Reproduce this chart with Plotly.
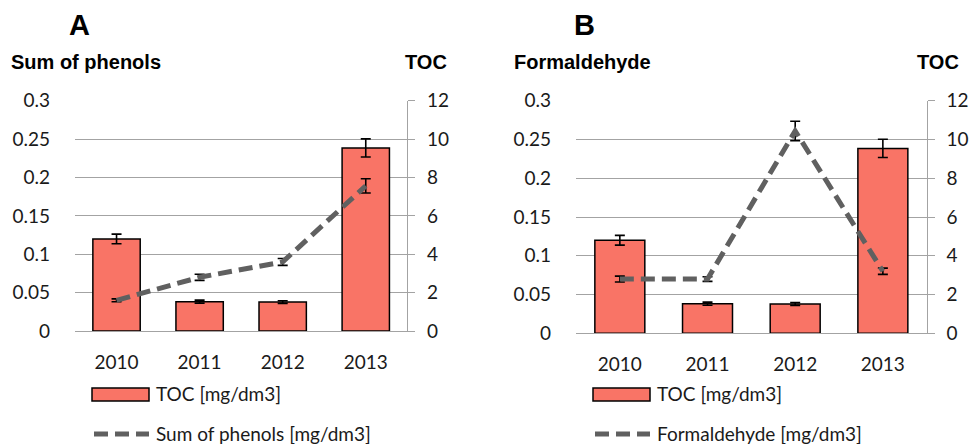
import plotly.graph_objects as go

# ---------------- data ----------------
years = ["2010", "2011", "2012", "2013"]
toc = [4.80, 1.53, 1.51, 9.54]
toc_err = [0.25, 0.08, 0.07, 0.47]
phenols = [0.040, 0.070, 0.090, 0.189]
phenols_err = [0.0018, 0.004, 0.0045, 0.0093]
formaldehyde = [0.070, 0.070, 0.261, 0.080]
formaldehyde_err = [0.0038, 0.003, 0.0125, 0.004]

left_ticks = [0, 0.05, 0.1, 0.15, 0.2, 0.25, 0.3]
right_ticks = [0, 2, 4, 6, 8, 10, 12]

W, H = 971, 444
def px(x):
    return x / W
def py(y):
    return 1 - y / H

BAR = "#F97466"
LINE = "#606060"
GRID = "#A3A3A3"
TXT = "#1a1a1a"
TICKFONT = dict(family="Lato", size=19, color=TXT)

fig = go.Figure()

panels = [
    dict(x="x", ybar="y", yline="y2", line=phenols, err=phenols_err,
         name="Sum of phenols [mg/dm3]"),
    dict(x="x2", ybar="y3", yline="y4", line=formaldehyde, err=formaldehyde_err,
         name="Formaldehyde [mg/dm3]"),
]

for p in panels:
    fig.add_trace(go.Bar(
        x=years, y=toc, xaxis=p["x"], yaxis=p["ybar"],
        marker=dict(color=BAR, line=dict(color="black", width=1.5)),
        error_y=dict(type="data", array=toc_err, color="black", thickness=1.6, width=5),
        name="TOC [mg/dm3]", showlegend=False,
    ))
    fig.add_trace(go.Scatter(
        x=years, y=p["line"], xaxis=p["x"], yaxis=p["yline"], mode="lines",
        line=dict(color=LINE, width=5, dash="14px,7px"),
        error_y=dict(type="data", array=p["err"], color="black", thickness=1.6, width=5),
        name=p["name"], showlegend=False,
    ))

def xax(domain, anchor):
    return dict(domain=domain, anchor=anchor, type="category", showgrid=False,
                showline=True, linecolor=GRID, linewidth=1, ticks="",
                tickfont=TICKFONT, ticklabelstandoff=14, fixedrange=True,
                automargin=False)

def ybar(domain, anchor):
    return dict(domain=domain, anchor=anchor, side="right", range=[0, 12],
                tickvals=right_ticks, showgrid=True, gridcolor=GRID, gridwidth=1,
                zeroline=False, showline=True, linecolor=GRID, linewidth=1,
                ticks="outside", ticklen=7, tickcolor=GRID, tickwidth=1,
                tickfont=TICKFONT, ticklabelstandoff=8, automargin=False)

def yline(anchor, over):
    return dict(anchor=anchor, overlaying=over, side="left", range=[0, 0.3],
                tickvals=left_ticks, showgrid=False, zeroline=False, showline=False,
                ticks="", tickfont=TICKFONT, ticklabelstandoff=24, automargin=False)

fig.update_layout(
    template="none",
    width=W, height=H, margin=dict(l=0, r=0, t=0, b=0, autoexpand=False),
    paper_bgcolor="white", plot_bgcolor="rgba(0,0,0,0)",
    bargap=0.43, showlegend=False,
    xaxis=xax([px(75), px(407.3)], "y"),
    yaxis=ybar([py(331), py(100.7)], "x"),
    yaxis2=yline("x", "y"),
    xaxis2=xax([px(576), px(926.7)], "y3"),
    yaxis3=ybar([py(333.3), py(100.7)], "x2"),
    yaxis4=yline("x2", "y3"),
)

# ---------------- titles ----------------
ann = []
def text(x, y, s, size, xanchor="left", bold=False, family="Liberation Sans"):
    ann.append(dict(xref="paper", yref="paper", x=px(x), y=py(y), text=(f"<b>{s}</b>" if bold else s),
                    showarrow=False, xanchor=xanchor, yanchor="middle",
                    font=dict(family=family, size=size, color="black" if bold else TXT)))

text(79, 25, "A", 29, "center", True)
text(584, 25, "B", 29, "center", True)
text(9, 62, "Sum of phenols", 20, "left", True)
text(426, 62, "TOC", 20, "center", True)
text(512, 62, "Formaldehyde", 20, "left", True)
text(938, 62, "TOC", 20, "center", True)

# ---------------- legends ----------------
shapes = []
for x0, lname in [(92, "Sum of phenols [mg/dm3]"), (593, "Formaldehyde [mg/dm3]")]:
    shapes.append(dict(type="rect", xref="paper", yref="paper",
                       x0=px(x0), x1=px(x0 + 57), y0=py(401), y1=py(388),
                       fillcolor=BAR, line=dict(color="black", width=1.5)))
    shapes.append(dict(type="line", xref="paper", yref="paper",
                       x0=px(x0 + 2), x1=px(x0 + 57), y0=py(434), y1=py(434),
                       line=dict(color=LINE, width=5, dash="14px,7px")))
    text(x0 + 62, 393, "TOC [mg/dm3]", 19, "left", family="Lato")
    text(x0 + 62, 433, lname, 19, "left", family="Lato")

fig.update_layout(annotations=ann, shapes=shapes)

fig.write_html(
    "out.html",
    config={"displayModeBar": False},
    post_script="document.body.style.margin='0px';document.body.style.overflow='hidden';",
)
